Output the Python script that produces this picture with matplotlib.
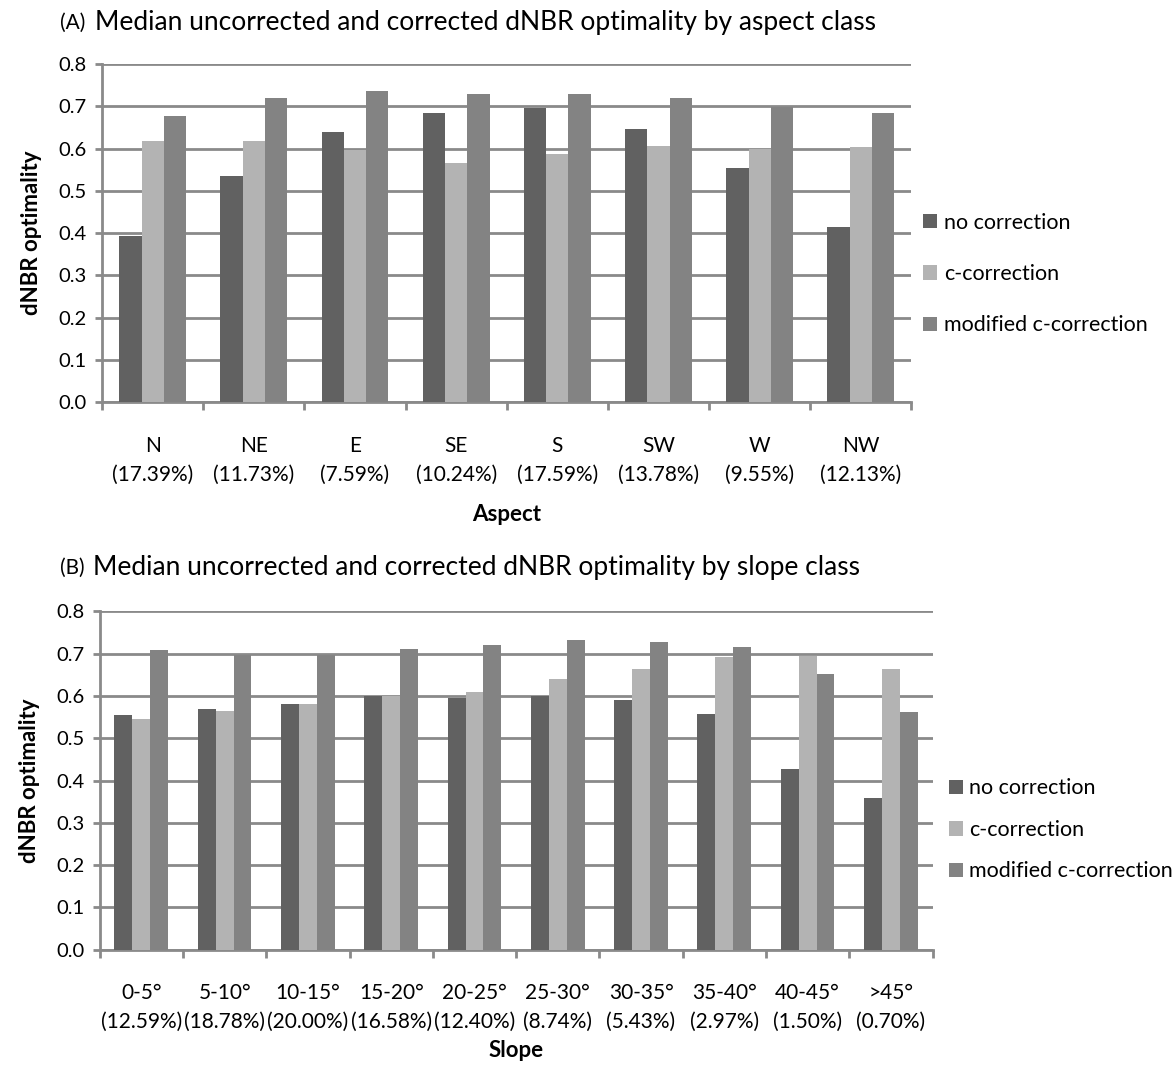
import numpy as np
import matplotlib.pyplot as plt

plt.rcParams['font.family'] = ['Lato', 'DejaVu Sans']

series = ["no correction", "c-correction", "modified c-correction"]
colors = ["#616161", "#b3b3b3", "#838383"]

aspect_cats = ["N\n(17.39%)", "NE\n(11.73%)", "E\n(7.59%)", "SE\n(10.24%)",
               "S\n(17.59%)", "SW\n(13.78%)", "W\n(9.55%)", "NW\n(12.13%)"]
aspect_none = [0.393, 0.536, 0.639, 0.683, 0.696, 0.647, 0.553, 0.414]
aspect_c = [0.618, 0.618, 0.596, 0.565, 0.586, 0.606, 0.598, 0.603]
aspect_mod = [0.678, 0.719, 0.736, 0.728, 0.728, 0.719, 0.699, 0.683]

slope_cats = ["0-5°\n(12.59%)", "5-10°\n(18.78%)", "10-15°\n(20.00%)", "15-20°\n(16.58%)",
              "20-25°\n(12.40%)", "25-30°\n(8.74%)", "30-35°\n(5.43%)", "35-40°\n(2.97%)",
              "40-45°\n(1.50%)", ">45°\n(0.70%)"]
slope_none = [0.554, 0.570, 0.581, 0.599, 0.596, 0.599, 0.590, 0.558, 0.428, 0.359]
slope_c = [0.546, 0.565, 0.581, 0.599, 0.610, 0.639, 0.664, 0.691, 0.695, 0.663]
slope_mod = [0.708, 0.698, 0.698, 0.712, 0.720, 0.733, 0.728, 0.716, 0.651, 0.561]

grid_col = "#8a8a8a"


def draw_panel(ax, cats, data, xlabel, bw, legend_y, lab_pad, leg_space, leg_pad):
    n = len(cats)
    x = np.arange(n)
    for k, (vals, col, lab) in enumerate(zip(data, colors, series)):
        ax.bar(x + (k - 1) * bw, vals, width=bw, color=col, label=lab, zorder=3)
    ax.set_xlim(-0.5, n - 0.5)
    ax.set_ylim(0, 0.8)
    ax.set_yticks(np.arange(0, 0.81, 0.1))
    ax.set_yticklabels(["%.1f" % v for v in np.arange(0, 0.81, 0.1)], fontsize=14.5)
    ax.yaxis.grid(True, color=grid_col, linewidth=2, zorder=0)
    ax.set_axisbelow(True)
    ax.set_xticks(np.arange(n + 1) - 0.5)
    ax.set_xticklabels([])
    ax.set_xticks(x, minor=True)
    ax.set_xticklabels(cats, minor=True, fontsize=15, linespacing=1.55)
    ax.tick_params(axis="x", which="minor", length=0, pad=24)
    ax.tick_params(axis="x", which="major", length=6, width=2, color=grid_col)
    ax.tick_params(axis="y", length=5, width=2, color=grid_col, pad=6)
    for s in ["top", "right"]:
        ax.spines[s].set_visible(False)
    for s in ["left", "bottom"]:
        ax.spines[s].set_color(grid_col)
        ax.spines[s].set_linewidth(2)
    ax.set_ylabel("dNBR optimality", fontsize=16, fontweight="bold", labelpad=12)
    ax.set_xlabel(xlabel, fontsize=16, fontweight="bold", labelpad=lab_pad)
    ax.legend(loc="center left", bbox_to_anchor=(1.0, legend_y), frameon=False,
              fontsize=15.5, handlelength=0.65, handleheight=0.65, handletextpad=0.3,
              labelspacing=leg_space, borderaxespad=leg_pad)


fig = plt.figure(figsize=(11.73, 10.67), dpi=100)
ax1 = fig.add_axes([0.087, 0.623, 0.690, 0.317])
ax2 = fig.add_axes([0.085, 0.110, 0.710, 0.317])

draw_panel(ax1, aspect_cats, [aspect_none, aspect_c, aspect_mod], "Aspect", 0.22, 0.379, 14, 1.45, 0.15)
draw_panel(ax2, slope_cats, [slope_none, slope_c, slope_mod], "Slope", 0.215, 0.354, 6, 1.0, 0.35)

fig.text(0.0512, 0.979, "(A)", fontsize=15, ha="left", va="center")
fig.text(0.081, 0.979, "Median uncorrected and corrected dNBR optimality by aspect class",
         fontsize=19, ha="left", va="center")
fig.text(0.0512, 0.468, "(B)", fontsize=15, ha="left", va="center")
fig.text(0.079, 0.468, "Median uncorrected and corrected dNBR optimality by slope class",
         fontsize=19, ha="left", va="center")

plt.savefig("out.png", dpi=100)
plt.close(fig)
